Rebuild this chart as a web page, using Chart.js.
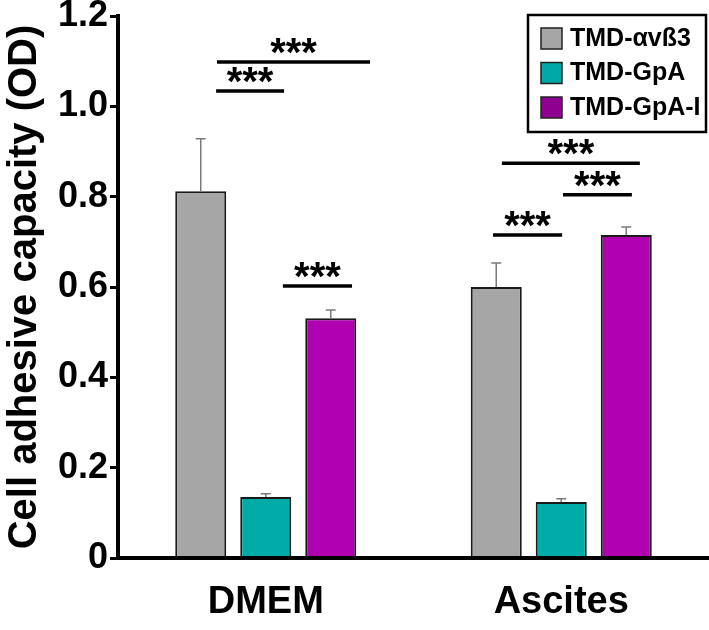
<!DOCTYPE html>
<html>
<head>
<meta charset="utf-8">
<script src="https://cdn.jsdelivr.net/npm/chart.js@4/dist/chart.umd.min.js"></script>
<style>
  html, body { margin: 0; padding: 0; background: #fff; }
  #wrap { width: 709px; height: 630px; }
</style>
</head>
<body>
<div id="wrap"><canvas id="barChart"></canvas></div>
<script>
// Data
var categories = ['DMEM', 'Ascites'];
var seriesNames = ['TMD-\u03b1v\u00df3', 'TMD-GpA', 'TMD-GpA-I'];
var avb3Values = [0.812, 0.600];
var gpaValues = [0.135, 0.124];
var gpaIValues = [0.531, 0.715];
var avb3Err = [0.116, 0.053];
var gpaErr = [0.007, 0.007];
var gpaIErr = [0.018, 0.018];
var yTickLabels = ['0', '0.2', '0.4', '0.6', '0.8', '1.0', '1.2'];
// significance brackets: [from (category units), to, y value, text]
var sigBrackets = [
    [-0.165, 0.353, 1.098, '***'],
    [-0.168, 0.062, 1.034, '***'],
    [0.058, 0.292, 0.602, '***'],
    [0.799, 1.266, 0.874, '***'],
    [1.006, 1.239, 0.804, '***'],
    [0.769, 1.003, 0.715, '***']
];

var colors = ['#a6a6a6', '#00aca8', '#b000b0'];
var legendColors = ['#a6a6a6', '#00a8a6', '#900090'];
var FONT = 'Arial, "Liberation Sans", sans-serif';

// error bars drawn on top of the bars
var errorBarPlugin = {
    id: 'errorBars',
    afterDatasetsDraw: function (chart) {
        var ctx = chart.ctx;
        var yScale = chart.scales.y;
        var errs = [avb3Err, gpaErr, gpaIErr];
        ctx.save();
        ctx.strokeStyle = '#7a7a7a';
        ctx.lineWidth = 1.5;
        chart.data.datasets.forEach(function (ds, i) {
            var meta = chart.getDatasetMeta(i);
            meta.data.forEach(function (bar, j) {
                var top = yScale.getPixelForValue(ds.data[j] + errs[i][j]);
                ctx.beginPath();
                ctx.moveTo(bar.x, bar.y);
                ctx.lineTo(bar.x, top);
                ctx.moveTo(bar.x - 5, top);
                ctx.lineTo(bar.x + 5, top);
                ctx.stroke();
            });
        });
        ctx.restore();
    }
};

// significance lines with stars
var sigPlugin = {
    id: 'sigLines',
    afterDraw: function (chart) {
        var ctx = chart.ctx;
        var xs = chart.scales.x, ys = chart.scales.y;
        ctx.save();
        ctx.strokeStyle = '#000';
        ctx.fillStyle = '#000';
        ctx.lineWidth = 3.5;
        ctx.font = 'bold 40px ' + FONT;
        ctx.textAlign = 'center';
        ctx.textBaseline = 'alphabetic';
        sigBrackets.forEach(function (b) {
            var x1 = xs.getPixelForValue(b[0]);
            var x2 = xs.getPixelForValue(b[1]);
            var y = ys.getPixelForValue(b[2]);
            ctx.beginPath();
            ctx.moveTo(x1, y);
            ctx.lineTo(x2, y);
            ctx.stroke();
            ctx.fillText(b[3], (x1 + x2) / 2, y + 4);
        });
        ctx.restore();
    }
};

// boxed legend top right
var boxLegendPlugin = {
    id: 'boxLegend',
    afterDraw: function (chart) {
        var ctx = chart.ctx;
        var left = 528, top = 15, w = 178, h = 117;
        ctx.save();
        ctx.lineWidth = 2.5;
        ctx.strokeStyle = '#000';
        ctx.fillStyle = '#fff';
        ctx.fillRect(left, top, w, h);
        ctx.strokeRect(left, top, w, h);
        ctx.font = 'bold 25px ' + FONT;
        ctx.textBaseline = 'middle';
        ctx.textAlign = 'left';
        chart.data.datasets.forEach(function (ds, i) {
            var sy = top + 13 + i * 34.5;
            ctx.fillStyle = legendColors[i];
            ctx.fillRect(left + 13, sy, 21, 21);
            ctx.lineWidth = 1.5;
            ctx.strokeStyle = '#222';
            ctx.strokeRect(left + 13, sy, 21, 21);
            ctx.fillStyle = '#000';
            ctx.fillText(ds.label, left + 42, sy + 11);
        });
        ctx.restore();
    }
};

var ctx = document.getElementById('barChart').getContext('2d');
var myChart = new Chart(ctx, {
    type: 'bar',
    data: {
        labels: categories,
        datasets: [{
            label: seriesNames[0],
            data: avb3Values,
            backgroundColor: colors[0]
        }, {
            label: seriesNames[1],
            data: gpaValues,
            backgroundColor: colors[1]
        }, {
            label: seriesNames[2],
            data: gpaIValues,
            backgroundColor: colors[2]
        }]
    },
    options: {
        responsive: true,
        maintainAspectRatio: false,
        animation: false,
        devicePixelRatio: 1,
        layout: { padding: { top: 16, right: 0, left: 0, bottom: 0 } },
        datasets: {
            bar: {
                categoryPercentage: 0.66,
                barPercentage: 0.785,
                borderColor: '#1a1a1a',
                borderWidth: 2
            }
        },
        plugins: {
            legend: { display: false },
            tooltip: { enabled: false }
        },
        scales: {
            x: {
                grid: { display: false, drawTicks: false },
                border: { display: true, color: '#000', width: 4, z: 1 },
                ticks: {
                    color: '#000',
                    padding: 22,
                    font: { family: FONT, size: 38, weight: 'bold' }
                },
                afterFit: function (scale) { scale.height = 72; }
            },
            y: {
                min: 0,
                max: 1.2,
                grid: { display: true, drawOnChartArea: false, drawTicks: true, tickLength: 8, lineWidth: 3, color: '#000' },
                border: { display: true, color: '#000', width: 4, z: 1 },
                ticks: {
                    stepSize: 0.2,
                    color: '#000',
                    padding: 2,
                    font: { family: FONT, size: 36, weight: 'bold', lineHeight: 1 },
                    callback: function (v, i) { return yTickLabels[i]; }
                },
                title: {
                    display: true,
                    text: 'Cell adhesive capacity (OD)',
                    color: '#000',
                    padding: { top: 1, bottom: 0 },
                    font: { family: FONT, size: 40, weight: 'bold', lineHeight: 1.2 }
                },
                afterFit: function (scale) {
                    scale.width = 118;
                    scale.paddingTop = 0;
                    scale.paddingBottom = 0;
                }
            }
        }
    },
    plugins: [errorBarPlugin, sigPlugin, boxLegendPlugin]
});
</script>
</body>
</html>
